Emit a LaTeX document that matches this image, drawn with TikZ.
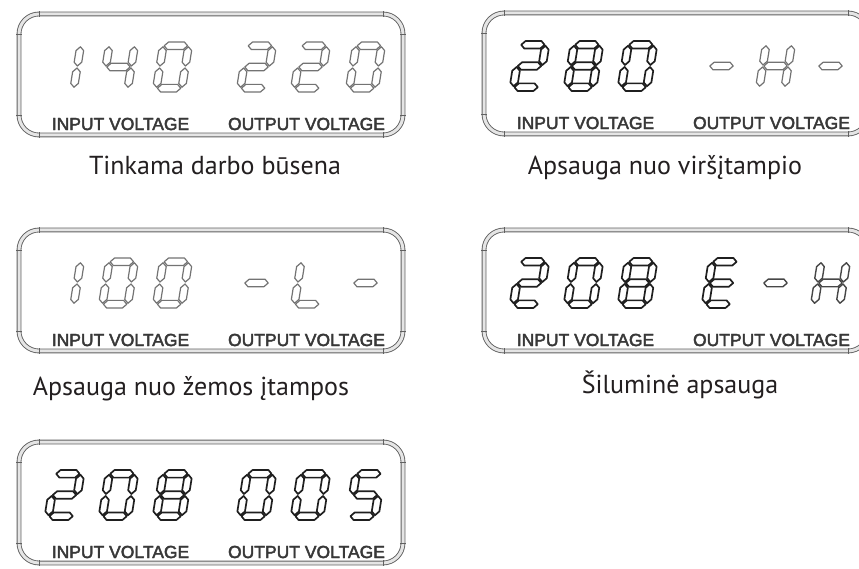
\documentclass[tikz,border=0pt]{standalone}
\usepackage{fontspec}
\setmainfont{PT Sans}
\newfontfamily\labelfont[RawFeature={embolden=2.5}]{Liberation Sans}
\definecolor{captext}{HTML}{231F20}
\tikzset{
  seglight/.style={draw=black!55, line width=1.2pt, fill=white, line join=round},
  segmid/.style={draw=black!72, line width=1.4pt, fill=white, line join=round},
  segdark/.style={draw=black!88, line width=1.7pt, fill=white, line join=round},
  tube/.style={draw=black!62, line width=0.9pt, double=black!10, double distance=3pt, rounded corners=20pt},
  jointick/.style={draw=black!62, line width=0.8pt},
  lbl/.style={font=\labelfont\fontsize{17.5}{18}\selectfont, text=black!78, inner sep=0pt},
  captxt/.style={font=\fontsize{26}{28}\selectfont, text=captext, inner sep=0pt, anchor=base},
}
\def\sega{(4.8,46.2) -- (8.6,50) -- (24.4,50) -- (28.2,46.2) -- (24.4,42.4) -- (8.6,42.4) -- cycle}
\def\segg{(4.8,25) -- (8.6,28.8) -- (24.4,28.8) -- (28.2,25) -- (24.4,21.2) -- (8.6,21.2) -- cycle}
\def\segd{(4.8,3.8) -- (8.6,7.6) -- (24.4,7.6) -- (28.2,3.8) -- (24.4,0) -- (8.6,0) -- cycle}
\def\segf{(3.8,26) -- (7.6,29.8) -- (7.6,41.4) -- (3.8,45.2) -- (0,41.4) -- (0,29.8) -- cycle}
\def\sege{(3.8,4.8) -- (7.6,8.6) -- (7.6,20.2) -- (3.8,24) -- (0,20.2) -- (0,8.6) -- cycle}
\def\segb{(29.2,26) -- (33,29.8) -- (33,41.4) -- (29.2,45.2) -- (25.4,41.4) -- (25.4,29.8) -- cycle}
\def\segc{(29.2,4.8) -- (33,8.6) -- (33,20.2) -- (29.2,24) -- (25.4,20.2) -- (25.4,8.6) -- cycle}
\newcommand\lcddigit[4]{%
  \begin{scope}[shift={(#1,#2)},xslant=0.16]
    \foreach \s in {#4}{\expandafter\let\expandafter\curseg\csname seg\s\endcsname
      \draw[#3] \curseg;}
  \end{scope}}
\newcommand\lcdpanel[1]{%
  \draw[tube] (0,0) rectangle (384,-121);
  \foreach \tx in {20,364}{\draw[jointick] (\tx,2.6) -- (\tx,-2.6); \draw[jointick] (\tx,-118.4) -- (\tx,-123.6);}
  \foreach \ty in {-20,-101}{\draw[jointick] (-2.6,\ty) -- (2.6,\ty); \draw[jointick] (381.4,\ty) -- (386.6,\ty);}
  \node[lbl] (#1in) at (101.5,-110) {INPUT VOLTAGE};
  \node[lbl] (#1out) at (287.5,-110) {OUTPUT VOLTAGE};}
\begin{document}
\begin{tikzpicture}[x=1pt,y=1pt]
\fill[white] (0,0) rectangle (859,568);
\useasboundingbox (0,0) rectangle (859,568);
\begin{scope}
  \clip (0,0) rectangle (859,568);
  % panel 1
  \begin{scope}[shift={(19,554)}]
    \lcdpanel{pa}
    \lcddigit{25}{-78}{seglight}{b,c}
    \lcddigit{79}{-78}{seglight}{f,g,b,c}
    \lcddigit{133}{-78}{seglight}{a,b,c,d,e,f}
    \lcddigit{217}{-78}{seglight}{a,b,g,e,d}
    \lcddigit{271}{-78}{seglight}{a,b,g,e,d}
    \lcddigit{326}{-78}{seglight}{a,b,c,d,e,f}
  \end{scope}
  % panel 2
  \begin{scope}[shift={(484,555)}]
    \lcdpanel{pb}
    \lcddigit{25}{-78}{segdark}{a,b,g,e,d}
    \lcddigit{79}{-78}{segdark}{a,b,c,d,e,f,g}
    \lcddigit{133}{-78}{segdark}{a,b,c,d,e,f}
    \lcddigit{217}{-78}{seglight}{g}
    \lcddigit{271}{-78}{seglight}{b,c,e,f,g}
    \lcddigit{326}{-78}{seglight}{g}
  \end{scope}
  % panel 3
  \begin{scope}[shift={(19,338)}]
    \lcdpanel{pc}
    \lcddigit{25}{-78}{seglight}{b,c}
    \lcddigit{79}{-78}{seglight}{a,b,c,d,e,f}
    \lcddigit{133}{-78}{seglight}{a,b,c,d,e,f}
    \lcddigit{217}{-78}{seglight}{g}
    \lcddigit{271}{-78}{seglight}{f,e,d}
    \lcddigit{326}{-78}{seglight}{g}
  \end{scope}
  % panel 4
  \begin{scope}[shift={(484,338)}]
    \lcdpanel{pd}
    \lcddigit{25}{-78}{segdark}{a,b,g,e,d}
    \lcddigit{79}{-78}{segdark}{a,b,c,d,e,f}
    \lcddigit{133}{-78}{segdark}{a,b,c,d,e,f,g}
    \lcddigit{217}{-78}{segdark}{a,f,g,e,d}
    \lcddigit{271}{-78}{segmid}{g}
    \lcddigit{326}{-78}{segmid}{b,c,e,f,g}
  \end{scope}
  % panel 5
  \begin{scope}[shift={(19,126)}]
    \lcdpanel{pe}
    \lcddigit{25}{-78}{segdark}{a,b,g,e,d}
    \lcddigit{79}{-78}{segdark}{a,b,c,d,e,f}
    \lcddigit{133}{-78}{segdark}{a,b,c,d,e,f,g}
    \lcddigit{217}{-78}{segdark}{a,b,c,d,e,f}
    \lcddigit{271}{-78}{segdark}{a,b,c,d,e,f}
    \lcddigit{326}{-78}{segdark}{a,f,g,c,d}
  \end{scope}
\end{scope}
% captions
\node[captxt] (c1) at (215,393) {Tinkama darbo būsena};
\node[captxt] (c2) at (665,393) {Apsauga nuo viršįtampio};
\node[captxt] (c3) at (191,173) {Apsauga nuo žemos įtampos};
\node[captxt] (c4) at (680,175) {Šiluminė apsauga};
\end{tikzpicture}
\end{document}
